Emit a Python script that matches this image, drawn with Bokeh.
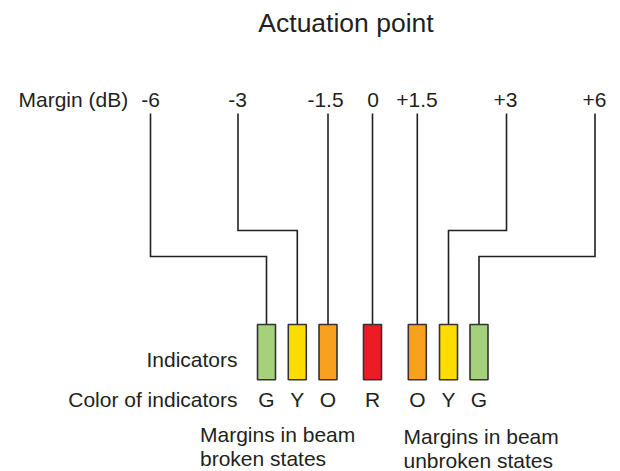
from bokeh.plotting import figure
from bokeh.models import Range1d
from bokeh.embed import file_html
from bokeh.resources import INLINE
from bokeh.core.properties import value

# ---------------- data ----------------
title_text = "Actuation point"
margin_axis_label = "Margin (dB)"
margin_labels = ["-6", "-3", "-1.5", "0", "+1.5", "+3", "+6"]
indicator_letters = ["G", "Y", "O", "R", "O", "Y", "G"]
indicator_colors = ["#a5d17b", "#ffdc00", "#f7a11e", "#ec1c24", "#f7a11e", "#ffdc00", "#a5d17b"]
row_labels = ["Indicators", "Color of indicators"]
broken_note = ["Margins in beam", "broken states"]
unbroken_note = ["Margins in beam", "unbroken states"]

# ---------------- layout (pixel positions in the picture) ----------------
W, H = 620, 471
label_x = [150, 237.5, 327.5, 372, 416.5, 506, 594.5]
label_text_x = [150, 237, 325, 372.5, 416.5, 505, 594]
elbow_y = [256, 230, None, None, None, 230, 256]
box_x = [266, 296.8, 327.5, 372, 416.8, 448, 478.5]
box_w = 18
box_top, box_bot = 324, 379.3
line_top = 113
FONT = value("Liberation Sans")
INK = "#231f20"
FS = 21
TS = 26.5


def mid(baseline, size):
    return baseline - 0.35 * size


p = figure(width=W, height=H, output_backend="svg", toolbar_location=None,
           x_range=Range1d(0, W), y_range=Range1d(H, 0),
           min_border=0, border_fill_color="white", background_fill_color="white")
p.axis.visible = False
p.grid.visible = False
p.outline_line_color = None

# connector lines
xs, ys = [], []
for lx, ey, bx in zip(label_x, elbow_y, box_x):
    if ey is None:
        xs.append([bx, bx]); ys.append([line_top, box_top])
    else:
        xs.append([lx, lx, bx, bx]); ys.append([line_top, ey, ey, box_top])
p.multi_line(xs=xs, ys=ys, line_color=INK, line_width=1.6, line_join="miter")

# indicator boxes
p.quad(left=[x - box_w / 2 for x in box_x], right=[x + box_w / 2 for x in box_x],
       top=[box_top] * len(box_x), bottom=[box_bot] * len(box_x), fill_color=indicator_colors,
       line_color="#333333", line_width=1.6)

fs = f"{FS}px"
# letters
p.text(x=box_x, y=[mid(406, FS)] * 7, text=indicator_letters, text_font=FONT,
       text_font_size=fs, text_align="center", text_baseline="middle", text_color=INK)

# margin labels
p.text(x=label_text_x, y=[mid(106.5, FS)] * 7, text=margin_labels, text_font=FONT,
       text_font_size=fs, text_align="center", text_baseline="middle", text_color=INK)
p.text(x=[18], y=[mid(106.5, FS)], text=[margin_axis_label], text_font=FONT,
       text_font_size=fs, text_align="left", text_baseline="middle", text_color=INK)

# title
p.text(x=[345.5], y=[mid(31.5, TS)], text=[title_text], text_font=FONT,
       text_font_size=f"{TS}px", text_align="center", text_baseline="middle", text_color=INK)

# row labels
p.text(x=[237, 237], y=[mid(366, FS), mid(406, FS)], text=row_labels, text_font=FONT,
       text_font_size=fs, text_align="right", text_baseline="middle", text_color=INK)

# notes
p.text(x=[199.5, 199.5], y=[mid(441, FS), mid(465, FS)], text=broken_note, text_font=FONT,
       text_font_size=fs, text_align="left", text_baseline="middle", text_color=INK)
p.text(x=[403, 403], y=[mid(443.5, FS), mid(467.5, FS)], text=unbroken_note, text_font=FONT,
       text_font_size=fs, text_align="left", text_baseline="middle", text_color=INK)

open("out.html", "w").write(file_html(p, INLINE))
